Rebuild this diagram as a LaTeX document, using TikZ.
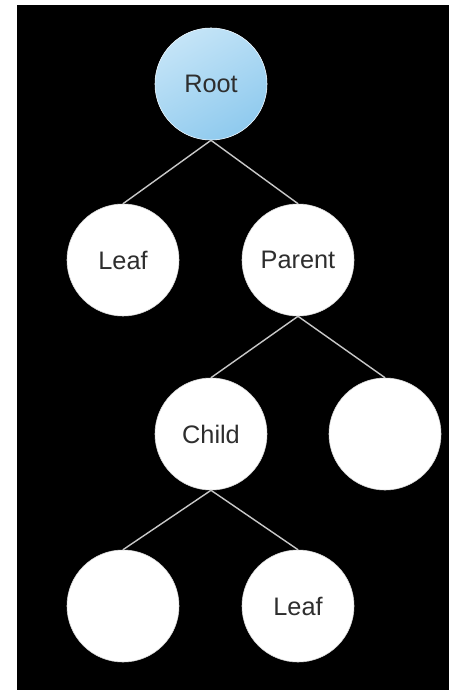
\documentclass[tikz,border=0pt]{standalone}
\usepackage{fontspec}
\setmainfont{Liberation Sans}
\usepackage{tikz}
\definecolor{treeink}{HTML}{2E2E2E}
\definecolor{treeedge}{HTML}{C8C8C8}
\definecolor{rootlight}{HTML}{C4E4F7}
\definecolor{rootdark}{HTML}{8FCAEE}

\begin{document}
\begin{tikzpicture}[x=0.025cm, y=-0.025cm,
    every node/.style={font=\fontsize{18}{20}\selectfont, text=treeink},
    treenode/.style={circle, fill=white, draw=white!85!black, line width=0.4pt,
      minimum size=2.8cm, inner sep=0pt},
    rootnode/.style={treenode, draw=white!80!rootdark,
      top color=rootlight, bottom color=rootdark, shading angle=30},
    edge/.style={draw=treeedge, line width=1pt}]
  % page and dark panel
  \fill[white] (0,0) rectangle (449,690);
  \fill[black] (17,5) rectangle (449,690);
  \useasboundingbox (0,0) rectangle (449,690);
  % levels 0 and 1
  \node[rootnode] (root) at (211,84) {Root};
  \node[treenode] (leafA) at (123,260) {Leaf};
  \node[treenode] (parent) at (298,260) {Parent};
  % levels 2 and 3
  \node[treenode] (child) at (211,434) {Child};
  \node[treenode] (sibling) at (385,434) {};
  \node[treenode] (grandA) at (123,606) {};
  \node[treenode] (leafB) at (298,606) {Leaf};
  % connectors
  \foreach \a/\b in {root/leafA, root/parent, parent/child, parent/sibling,
                     child/grandA, child/leafB}
    \draw[edge] (\a.south) -- (\b.north);
\end{tikzpicture}
\end{document}
